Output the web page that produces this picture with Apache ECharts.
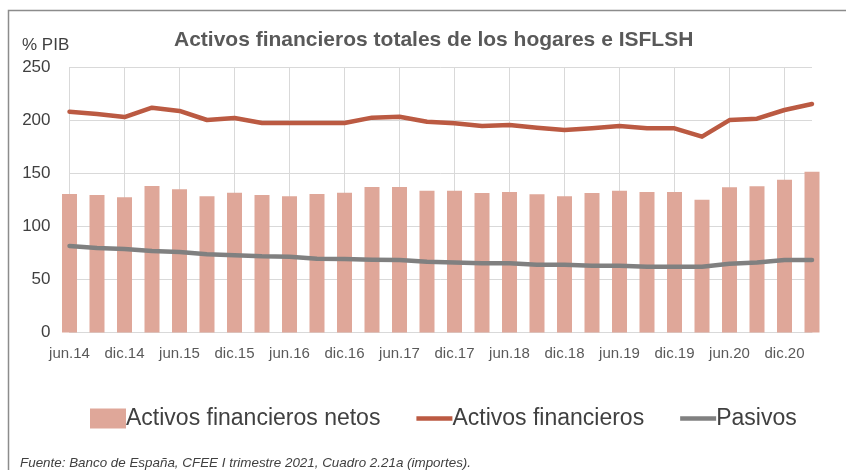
<!DOCTYPE html>
<html>
<head>
<meta charset="utf-8">
<title>Activos financieros totales de los hogares e ISFLSH</title>
<script src="https://cdn.jsdelivr.net/npm/echarts@6/dist/echarts.min.js"></script>
<style>
  html, body { margin: 0; padding: 0; background: #fff; }
  #chart { width: 846px; height: 470px; }
</style>
</head>
<body>
<div id="chart"></div>
<script>
// trimestres, de jun.14 a mar.21
var categories = ['jun.14', 'sep.14', 'dic.14', 'mar.15', 'jun.15', 'sep.15', 'dic.15',
  'mar.16', 'jun.16', 'sep.16', 'dic.16', 'mar.17', 'jun.17', 'sep.17', 'dic.17',
  'mar.18', 'jun.18', 'sep.18', 'dic.18', 'mar.19', 'jun.19', 'sep.19', 'dic.19',
  'mar.20', 'jun.20', 'sep.20', 'dic.20', 'mar.21'];

// % PIB
var netos = [130.4, 129.5, 127.3, 138, 134.8, 128.2, 131.6, 129.5, 128.2, 130.4, 131.6, 137, 137, 133.5,
  133.5, 131.4, 132.3, 130.1, 128.2, 131.4, 133.5, 132.3, 132.3, 125, 136.7, 137.7, 143.9, 151.4];
var activos = [207.9, 205.7, 202.9, 211.7, 208.6, 200.1, 202, 197.3, 197.3, 197.3, 197.3, 202.3, 203.2, 198.5,
  197, 194.4, 195.4, 192.8, 190.7, 192.3, 194.4, 192.3, 192.3, 184.4, 200, 201.3, 209.5, 215.2];
var pasivos = [81.5, 79.6, 78.6, 76.7, 75.8, 73.6, 72.7, 71.7, 71.4, 69.5, 69.2, 68.6, 68.3, 66.7,
  66, 65.1, 65.1, 63.9, 63.9, 62.9, 62.9, 62, 62, 62, 64.8, 66, 68.3, 68.3];

var yTicks = { min: 0, max: 250, interval: 50 };

(function () {
  var myChart = echarts.init(document.getElementById('chart'));
  var font = "'Liberation Sans', Arial, Helvetica, sans-serif";
  var lineIcon = 'path://M0,0 L32,0 L32,4 L0,4 Z';

  var option = {
    backgroundColor: '#fff',
    animation: false,
    textStyle: { fontFamily: font },
    graphic: [{
      type: 'rect',
      shape: { x: 8.5, y: 10.5, width: 900, height: 500 },
      style: { fill: 'none', stroke: '#8c8c8c', lineWidth: 1.5 },
      silent: true
    }],
    title: [
      {
        text: 'Activos financieros totales de los hogares e ISFLSH',
        left: 174,
        top: 30,
        padding: 0,
        textStyle: { fontFamily: font, fontSize: 21, fontWeight: 'bold', color: '#595959' }
      },
      {
        text: '% PIB',
        left: 22,
        top: 37,
        padding: 0,
        textStyle: { fontFamily: font, fontSize: 17, fontWeight: 'normal', color: '#404040' }
      },
      {
        text: 'Fuente: Banco de España, CFEE I trimestre 2021, Cuadro 2.21a (importes).',
        left: 20,
        top: 457,
        padding: 0,
        textStyle: { fontFamily: font, fontSize: 13.4, fontStyle: 'italic', fontWeight: 'normal', color: '#404040' }
      }
    ],
    legend: {
      left: 90,
      top: 407,
      padding: 0,
      itemWidth: 36,
      itemHeight: 20,
      itemGap: 36,
      selectedMode: false,
      textStyle: { fontFamily: font, fontSize: 23, color: '#404040', padding: [0, 0, 0, -5] },
      data: [
        { name: 'Activos financieros netos', icon: 'rect' },
        { name: 'Activos financieros', icon: lineIcon },
        { name: 'Pasivos', icon: lineIcon }
      ]
    },
    grid: {
      left: 69.5,
      right: 34,
      top: 67,
      bottom: 137.5
    },
    xAxis: {
      type: 'category',
      data: categories,
      boundaryGap: false,
      axisLine: { lineStyle: { color: '#d9d9d9', width: 1 } },
      axisTick: { show: false },
      axisLabel: {
        interval: 1,
        margin: 14,
        fontSize: 15,
        color: '#595959',
        fontFamily: font
      },
      splitLine: {
        show: true,
        interval: 1,
        lineStyle: { color: '#d9d9d9', width: 1 }
      }
    },
    yAxis: {
      type: 'value',
      min: yTicks.min,
      max: yTicks.max,
      interval: yTicks.interval,
      axisLine: { show: false },
      axisTick: { show: false },
      axisLabel: {
        margin: 19,
        fontSize: 17,
        color: '#404040',
        fontFamily: font
      },
      splitLine: { lineStyle: { color: '#d9d9d9', width: 1 } }
    },
    series: [
      {
        name: 'Activos financieros netos',
        type: 'bar',
        barWidth: 15,
        clip: false,
        itemStyle: { color: '#dfa799' },
        data: netos,
        z: 2
      },
      {
        name: 'Activos financieros',
        type: 'line',
        symbol: 'none',
        lineStyle: { color: '#bb5a42', width: 4.5, cap: 'round', join: 'round' },
        itemStyle: { color: '#bb5a42' },
        data: activos,
        z: 3
      },
      {
        name: 'Pasivos',
        type: 'line',
        symbol: 'none',
        lineStyle: { color: '#808080', width: 4.5, cap: 'round', join: 'round' },
        itemStyle: { color: '#808080' },
        data: pasivos,
        z: 3
      }
    ]
  };

  if (option && typeof option === 'object') {
    myChart.setOption(option);
  }
  window.addEventListener('resize', myChart.resize);
})();
</script>
</body>
</html>
